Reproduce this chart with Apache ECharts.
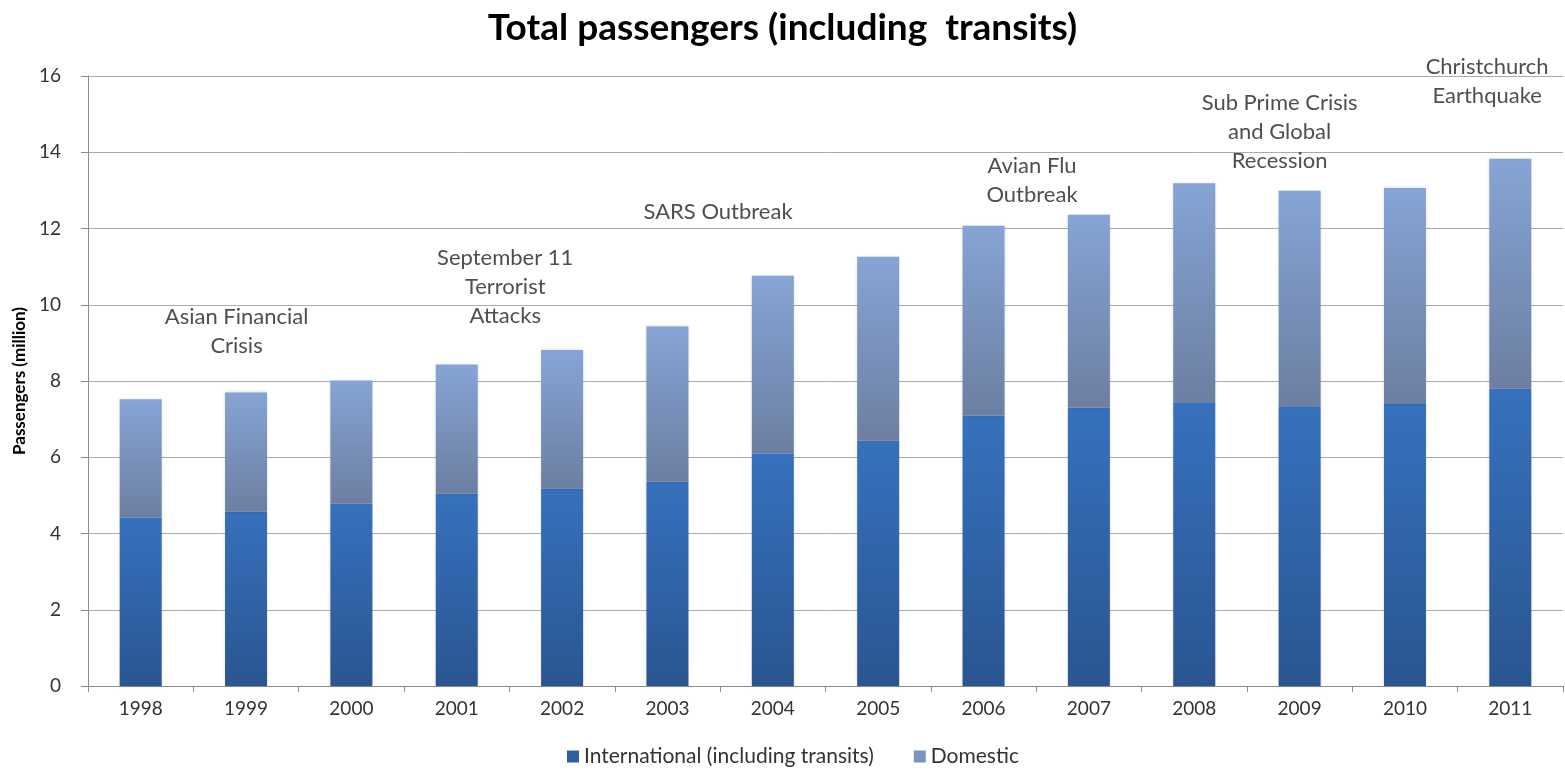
<!DOCTYPE html>
<html>
<head>
<meta charset="utf-8">
<title>Total passengers (including transits)</title>
<script src="https://cdn.jsdelivr.net/npm/echarts@6/dist/echarts.min.js"></script>
<style>
  html, body { margin: 0; padding: 0; background: #ffffff; }
  #chart { width: 1565px; height: 773px; }
</style>
</head>
<body>
<div id="chart"></div>
<script>
// Passenger totals per year, in millions
const years = ['1998', '1999', '2000', '2001', '2002', '2003', '2004',
               '2005', '2006', '2007', '2008', '2009', '2010', '2011'];
const international = [4.42, 4.57, 4.79, 5.04, 5.18, 5.36, 6.10,
                       6.43, 7.09, 7.30, 7.44, 7.34, 7.40, 7.80];
const domestic = [3.10, 3.13, 3.22, 3.39, 3.63, 4.07, 4.66,
                  4.83, 4.98, 5.06, 5.75, 5.65, 5.66, 6.03];
const yTicks = [0, 2, 4, 6, 8, 10, 12, 14, 16];

// Event notes: text, position along the year axis (1 unit per year slot), height in millions
const eventText = ['Asian Financial\nCrisis', 'September 11\nTerrorist\nAttacks', 'SARS Outbreak',
                   'Avian Flu\nOutbreak', 'Sub Prime Crisis\nand Global\nRecession', 'Christchurch\nEarthquake'];
const eventSlot = [1.41, 3.96, 5.98, 8.96, 11.31, 13.28];
const eventLevel = [9.29, 10.47, 12.43, 13.27, 14.53, 15.87];

const FONT = 'Lato, "Open Sans", sans-serif';
const chart = echarts.init(document.getElementById('chart'));

const intlFill = new echarts.graphic.LinearGradient(0, 0, 0, 1, [
  { offset: 0, color: '#3671bd' },
  { offset: 1, color: '#2a5591' }
]);
const domFill = new echarts.graphic.LinearGradient(0, 0, 0, 1, [
  { offset: 0, color: '#86a4d5' },
  { offset: 1, color: '#6c7fa1' }
]);

chart.setOption({
  animation: false,
  backgroundColor: '#ffffff',
  textStyle: { fontFamily: FONT },
  title: {
    text: 'Total passengers (including  transits)',
    left: 'center',
    top: 5,
    textStyle: { fontFamily: FONT, fontSize: 37, fontWeight: 'bold', color: '#000000' }
  },
  legend: {
    bottom: 1,
    left: 562,
    icon: 'rect',
    itemWidth: 12,
    itemHeight: 12,
    itemGap: 40,
    textStyle: { fontFamily: FONT, fontSize: 21, color: '#333333' },
    data: [
      { name: 'International (including transits)', itemStyle: { color: '#2f5fa3' } },
      { name: 'Domestic', itemStyle: { color: '#7a93c2' } }
    ]
  },
  grid: { left: 88, right: 2, top: 76, bottom: 87, containLabel: false },
  xAxis: [
    {
      type: 'category',
      data: years,
      boundaryGap: true,
      axisLine: { lineStyle: { color: '#8c8c8c', width: 1 } },
      axisTick: { show: true, alignWithLabel: false, length: 6, lineStyle: { color: '#8c8c8c' } },
      axisLabel: { fontFamily: FONT, fontSize: 19, color: '#333333', margin: 13 }
    },
    {
      type: 'value',
      min: 0,
      max: years.length,
      show: false
    }
  ],
  yAxis: {
    type: 'value',
    min: 0,
    max: 16,
    interval: 2,
    name: 'Passengers (million)',
    nameLocation: 'middle',
    nameGap: 57,
    nameTextStyle: { fontFamily: FONT, fontSize: 17, fontWeight: 'bold', color: '#000000' },
    axisLine: { show: true, lineStyle: { color: '#8c8c8c' } },
    axisTick: { show: true, length: 7, lineStyle: { color: '#8c8c8c' } },
    axisLabel: {
      fontFamily: FONT, fontSize: 19, color: '#333333', margin: 27,
      formatter: v => (yTicks.indexOf(v) >= 0 ? String(v) : '')
    },
    splitLine: { show: true, lineStyle: { color: '#ababab', width: 1 } }
  },
  series: [
    {
      name: 'International (including transits)',
      type: 'bar',
      stack: 'passengers',
      data: international,
      barWidth: 42,
      itemStyle: { color: intlFill, shadowColor: 'rgba(0,0,0,0.18)', shadowBlur: 3 }
    },
    {
      name: 'Domestic',
      type: 'bar',
      stack: 'passengers',
      data: domestic,
      barWidth: 42,
      itemStyle: { color: domFill, shadowColor: 'rgba(0,0,0,0.18)', shadowBlur: 3 }
    },
    {
      name: 'events',
      type: 'scatter',
      xAxisIndex: 1,
      yAxisIndex: 0,
      symbolSize: 0,
      silent: true,
      z: 5,
      data: eventText.map((t, i) => ({ name: t, value: [eventSlot[i], eventLevel[i]] })),
      label: {
        show: true,
        position: 'inside',
        formatter: p => p.name,
        fontFamily: FONT,
        fontSize: 22,
        lineHeight: 29,
        align: 'center',
        verticalAlign: 'middle',
        color: '#222222'
      }
    }
  ]
});
</script>
</body>
</html>
